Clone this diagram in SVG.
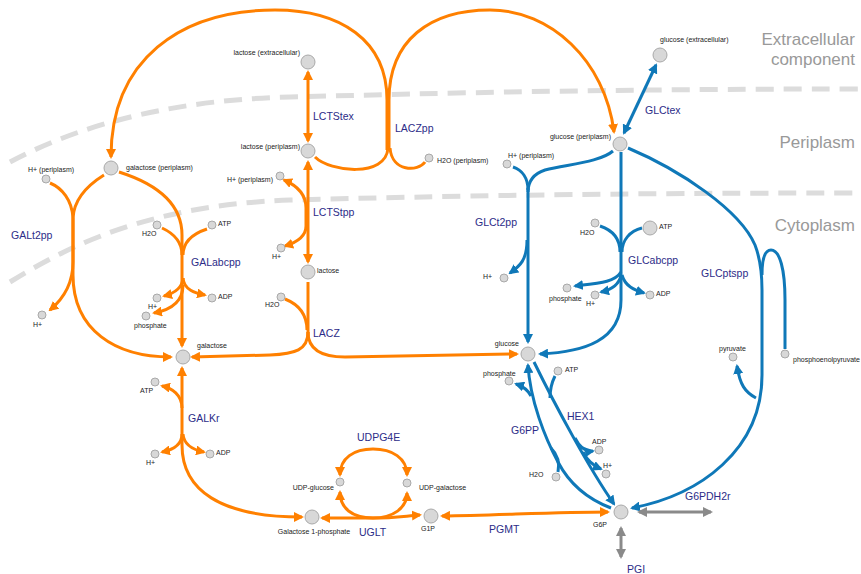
<svg xmlns="http://www.w3.org/2000/svg" width="861" height="574" viewBox="0 0 861 574">
<style>
.bg{fill:#ffffff}
.comp{fill:none;stroke:#dcdcdc;stroke-width:5;stroke-dasharray:18 10}
.clab{font-family:"Liberation Sans",Arial,Helvetica,sans-serif;font-size:17px;fill:#999999}
.o{fill:none;stroke:#ff8000;stroke-width:3;marker-end:url(#mo)}
.on{fill:none;stroke:#ff8000;stroke-width:3}
.ob{fill:none;stroke:#ff8000;stroke-width:3;marker-end:url(#mo);marker-start:url(#mo)}
.b{fill:none;stroke:#0f78b8;stroke-width:3;marker-end:url(#mb)}
.bn{fill:none;stroke:#0f78b8;stroke-width:3}
.bb{fill:none;stroke:#0f78b8;stroke-width:3;marker-end:url(#mb);marker-start:url(#mb)}
.gb{fill:none;stroke:#8a8a8a;stroke-width:3;marker-end:url(#mg);marker-start:url(#mg)}
.n{fill:#d8d8d8;stroke:#a9a9a9;stroke-width:1}
.nl{font-family:"Liberation Sans",Arial,Helvetica,sans-serif;font-size:7px;fill:#222222}
.rl{font-family:"Liberation Sans",Arial,Helvetica,sans-serif;font-size:10.5px;fill:#2c2c88}
</style>
<defs>
<marker id="mo" viewBox="0 0 10 10" refX="8" refY="5" markerWidth="10" markerHeight="10" markerUnits="userSpaceOnUse" orient="auto-start-reverse"><path d="M0,0 L10,5 L0,10 z" fill="#ff8000"/></marker>
<marker id="mb" viewBox="0 0 10 10" refX="8" refY="5" markerWidth="10" markerHeight="10" markerUnits="userSpaceOnUse" orient="auto-start-reverse"><path d="M0,0 L10,5 L0,10 z" fill="#0f78b8"/></marker>
<marker id="mg" viewBox="0 0 10 10" refX="8" refY="5" markerWidth="10" markerHeight="10" markerUnits="userSpaceOnUse" orient="auto-start-reverse"><path d="M0,0 L10,5 L0,10 z" fill="#8a8a8a"/></marker>
</defs>
<rect class="bg" x="0" y="0" width="861" height="574"/>
<g id="compartments">
<path class="comp" d="M10,162 C70,130 160,100 290,97 C450,93 600,89 861,89"/>
<path class="comp" d="M10,282 C70,245 150,205 290,200 C450,196 600,193 861,193"/>
<text class="clab" x="855" y="45" text-anchor="end">Extracellular</text>
<text class="clab" x="855" y="65" text-anchor="end">component</text>
<text class="clab" x="855" y="148" text-anchor="end">Periplasm</text>
<text class="clab" x="855" y="231" text-anchor="end">Cytoplasm</text>
</g>
<g id="connectors">
<g id="r-LCTStex"><path class="ob" d="M308,72 L308,141"/><text class="rl" x="313" y="120">LCTStex</text></g>
<g id="r-LCTStpp"><path class="ob" d="M308,162 L308,262"/><path class="ob" d="M284,180 C298,186 306,195 306,208 L306,226 C306,236 298,242 285,246"/><text class="rl" x="313" y="216">LCTStpp</text></g>
<g id="r-LACZpp">
<path class="on" d="M315,157 C330,172 386,178 388,148"/>
<path class="on" d="M425,162 C418,172 392,172 390,148"/>
<path class="o" d="M387,150 L387,100 C387,40 340,10 275,10 C180,10 111,60 111,157"/>
<path class="o" d="M389,150 L389,100 C389,40 430,10 490,10 C550,10 605,60 614,132"/>
<text class="rl" x="395" y="132">LACZpp</text></g>
<g id="r-GALt2pp">
<path class="on" d="M104,175 C88,185 74,198 73,218"/>
<path class="on" d="M50,183 C62,188 72,200 73,218"/>
<path class="o" d="M73,218 L73,262 C73,285 62,300 50,310"/>
<path class="o" d="M73,218 L73,275 C73,330 115,357 171,357"/>
<text class="rl" x="11" y="239">GALt2pp</text></g>
<g id="r-GALabcpp">
<path class="o" d="M119,172 C160,185 182,205 182,235 L182,346"/>
<path class="on" d="M162,228 C175,234 182,242 182,255"/>
<path class="on" d="M207,229 C192,234 183,242 183,255"/>
<path class="o" d="M183,278 C182,290 172,294 164,296"/>
<path class="o" d="M183,278 C184,290 195,293 205,295"/>
<path class="o" d="M183,285 C183,303 170,310 154,313"/>
<text class="rl" x="191" y="266">GALabcpp</text></g>
<g id="r-LACZ">
<path class="on" d="M308,282 L308,336"/>
<path class="on" d="M285,299 C300,305 307,315 307,330"/>
<path class="o" d="M308,332 C308,350 295,354 270,355 L192,357"/>
<path class="o" d="M308,332 C308,350 322,357 345,357 L517,354"/>
<text class="rl" x="313" y="337">LACZ</text></g>
<g id="r-GALKr">
<path class="ob" d="M182,368 L182,445 C182,490 220,517 302,517"/>
<path class="o" d="M182,408 C182,395 172,388 162,386"/>
<path class="o" d="M182,434 C182,446 172,450 162,452"/>
<path class="o" d="M183,434 C184,446 194,450 204,452"/>
<text class="rl" x="188" y="422">GALKr</text></g>
<g id="r-UGLT">
<path class="ob" d="M322,518 L372,518 C395,518 405,516 420,515"/>
<path class="ob" d="M340,492 C340,508 352,518 373,518 C393,518 407,508 407,493"/>
<text class="rl" x="359" y="536">UGLT</text></g>
<g id="r-UDPG4E">
<path class="ob" d="M340,475 C340,458 354,449 373,449 C392,449 407,458 407,475"/>
<text class="rl" x="357" y="441">UDPG4E</text></g>
<g id="r-PGMT">
<path class="ob" d="M442,516 C500,515 560,512 608,512"/>
<text class="rl" x="489" y="533">PGMT</text></g>
<g id="r-GLCtex"><path class="bb" d="M656,65 L624,133"/><text class="rl" x="645" y="114">GLCtex</text></g>
<g id="r-GLCt2pp">
<path class="bn" d="M513,167 C522,170 528,178 528,190"/>
<path class="bn" d="M613,151 C600,162 570,164 545,170 C533,174 528,182 528,192"/>
<path class="b" d="M528,188 L528,342"/>
<path class="b" d="M527,240 C527,260 520,266 510,273"/>
<text class="rl" x="475" y="226">GLCt2pp</text></g>
<g id="r-GLCabcpp">
<path class="b" d="M621,152 L621,300 C621,340 585,352 540,354"/>
<path class="bn" d="M600,226 C612,230 620,238 620,252"/>
<path class="bn" d="M642,228 C630,231 622,240 622,252"/>
<path class="b" d="M621,272 C615,282 600,283 575,286"/>
<path class="b" d="M621,275 C619,286 610,290 601,292"/>
<path class="b" d="M622,275 C625,286 634,290 644,293"/>
<text class="rl" x="628" y="264">GLCabcpp</text></g>
<g id="r-GLCptspp">
<path class="b" d="M628,148 C680,170 740,210 755,245 C760,258 762,270 762,290 L762,375 C762,450 700,495 632,508"/>
<path class="bn" d="M785,349 L785,300 C785,270 780,250 771,250 C764,250 762,260 762,275"/>
<path class="b" d="M756,398 C745,392 740,385 737,366"/>
<text class="rl" x="701" y="277">GLCptspp</text></g>
<g id="r-HEX1">
<path class="b" d="M534,362 C555,405 590,470 614,504"/>
<path class="bn" d="M555,376 C551,384 550,390 550,398"/>
<path class="b" d="M575,438 C580,448 586,452 593,451"/>
<path class="b" d="M583,452 C588,462 594,466 601,469"/>
<text class="rl" x="567" y="420">HEX1</text></g>
<g id="r-G6PP">
<path class="b" d="M611,508 C590,500 570,485 558,462 C545,438 530,400 528,365"/>
<path class="b" d="M531,396 C528,390 522,386 516,384"/>
<path class="bn" d="M558,472 C560,462 558,455 551,448"/>
<text class="rl" x="511" y="434">G6PP</text></g>
<g id="r-G6PDH2r"><path class="gb" d="M639,512 L711,512"/><text class="rl" x="685" y="500">G6PDH2r</text></g>
<g id="r-PGI"><path class="gb" d="M621,528 L621,557"/><text class="rl" x="627" y="573">PGI</text></g>
</g>
<g id="n-lcts-e"><circle class="n" cx="308" cy="62" r="7"/><text class="nl" x="300" y="55" text-anchor="end">lactose (extracellular)</text></g>
<g id="n-lcts-p"><circle class="n" cx="308" cy="151" r="7"/><text class="nl" x="300" y="148.5" text-anchor="end">lactose (periplasm)</text></g>
<g id="n-h-p1"><circle class="n" cx="280" cy="176" r="4"/><text class="nl" x="273" y="181.5" text-anchor="end">H+ (periplasm)</text></g>
<g id="n-gal-p"><circle class="n" cx="111" cy="168" r="7"/><text class="nl" x="126" y="169.5">galactose (periplasm)</text></g>
<g id="n-h-p2"><circle class="n" cx="46" cy="179" r="4"/><text class="nl" x="28" y="171.5">H+ (periplasm)</text></g>
<g id="n-h2o-p"><circle class="n" cx="429" cy="158" r="4"/><text class="nl" x="437" y="162.5">H2O (periplasm)</text></g>
<g id="n-h-p3"><circle class="n" cx="507" cy="164" r="4"/><text class="nl" x="508" y="157.5">H+ (periplasm)</text></g>
<g id="n-glc-p"><circle class="n" cx="620" cy="144" r="7"/><text class="nl" x="611" y="139" text-anchor="end">glucose (periplasm)</text></g>
<g id="n-glc-e"><circle class="n" cx="660" cy="55" r="7"/><text class="nl" x="660" y="41.5">glucose (extracellular)</text></g>
<g id="n-h-c1"><circle class="n" cx="42" cy="315" r="4"/><text class="nl" x="33" y="326.5">H+</text></g>
<g id="n-h2o-c1"><circle class="n" cx="157" cy="225" r="4"/><text class="nl" x="142" y="235.5">H2O</text></g>
<g id="n-atp-c1"><circle class="n" cx="212" cy="225" r="4"/><text class="nl" x="218" y="225.5">ATP</text></g>
<g id="n-h-c2"><circle class="n" cx="157" cy="298" r="4"/><text class="nl" x="148" y="308.5">H+</text></g>
<g id="n-adp-c1"><circle class="n" cx="212" cy="298" r="4"/><text class="nl" x="218" y="298.5">ADP</text></g>
<g id="n-pi-c1"><circle class="n" cx="146" cy="316" r="4"/><text class="nl" x="134" y="327.5">phosphate</text></g>
<g id="n-gal"><circle class="n" cx="183" cy="357" r="7"/><text class="nl" x="197" y="347.5">galactose</text></g>
<g id="n-h-c3"><circle class="n" cx="281" cy="248" r="4"/><text class="nl" x="272" y="258.5">H+</text></g>
<g id="n-lcts"><circle class="n" cx="308" cy="272" r="7"/><text class="nl" x="317" y="272.5">lactose</text></g>
<g id="n-h2o-c2"><circle class="n" cx="281" cy="297" r="4"/><text class="nl" x="265" y="306.5">H2O</text></g>
<g id="n-h-c4"><circle class="n" cx="504" cy="278" r="4"/><text class="nl" x="483" y="278.5">H+</text></g>
<g id="n-glc"><circle class="n" cx="528" cy="354" r="7"/><text class="nl" x="519" y="345.5" text-anchor="end">glucose</text></g>
<g id="n-h2o-c3"><circle class="n" cx="595" cy="223" r="4"/><text class="nl" x="580" y="234.5">H2O</text></g>
<g id="n-atp-c2"><circle class="n" cx="650" cy="228" r="7"/><text class="nl" x="659" y="228.5">ATP</text></g>
<g id="n-pi-c2"><circle class="n" cx="567" cy="288" r="4"/><text class="nl" x="549" y="300.5">phosphate</text></g>
<g id="n-h-c5"><circle class="n" cx="595" cy="295" r="4"/><text class="nl" x="586" y="305.5">H+</text></g>
<g id="n-adp-c2"><circle class="n" cx="650" cy="295" r="4"/><text class="nl" x="656" y="295.5">ADP</text></g>
<g id="n-pyr"><circle class="n" cx="733" cy="357" r="4"/><text class="nl" x="719" y="350.5">pyruvate</text></g>
<g id="n-pep"><circle class="n" cx="785" cy="354" r="4"/><text class="nl" x="793" y="361.5">phosphoenolpyruvate</text></g>
<g id="n-pi-c3"><circle class="n" cx="509" cy="381" r="4"/><text class="nl" x="483" y="375.5">phosphate</text></g>
<g id="n-atp-c3"><circle class="n" cx="558" cy="371" r="4"/><text class="nl" x="565" y="371.5">ATP</text></g>
<g id="n-adp-c3"><circle class="n" cx="599" cy="450" r="4"/><text class="nl" x="592" y="443.5">ADP</text></g>
<g id="n-h-c6"><circle class="n" cx="606" cy="474" r="4"/><text class="nl" x="603" y="467.5">H+</text></g>
<g id="n-h2o-c4"><circle class="n" cx="556" cy="477" r="4"/><text class="nl" x="529" y="476.5">H2O</text></g>
<g id="n-g6p"><circle class="n" cx="621" cy="512" r="7"/><text class="nl" x="593" y="526.5">G6P</text></g>
<g id="n-atp-c4"><circle class="n" cx="155" cy="382" r="4"/><text class="nl" x="140" y="392.5">ATP</text></g>
<g id="n-h-c7"><circle class="n" cx="155" cy="454" r="4"/><text class="nl" x="146" y="464.5">H+</text></g>
<g id="n-adp-c4"><circle class="n" cx="210" cy="454" r="4"/><text class="nl" x="216" y="454.5">ADP</text></g>
<g id="n-gal1p"><circle class="n" cx="312" cy="517" r="7"/><text class="nl" x="314" y="533.5" text-anchor="middle">Galactose 1-phosphate</text></g>
<g id="n-udpg"><circle class="n" cx="340" cy="482" r="4"/><text class="nl" x="334" y="489.5" text-anchor="end">UDP-glucose</text></g>
<g id="n-udpgal"><circle class="n" cx="407" cy="483" r="4"/><text class="nl" x="419" y="489.5">UDP-galactose</text></g>
<g id="n-g1p"><circle class="n" cx="431" cy="516" r="7"/><text class="nl" x="421" y="530.5">G1P</text></g>
</svg>
